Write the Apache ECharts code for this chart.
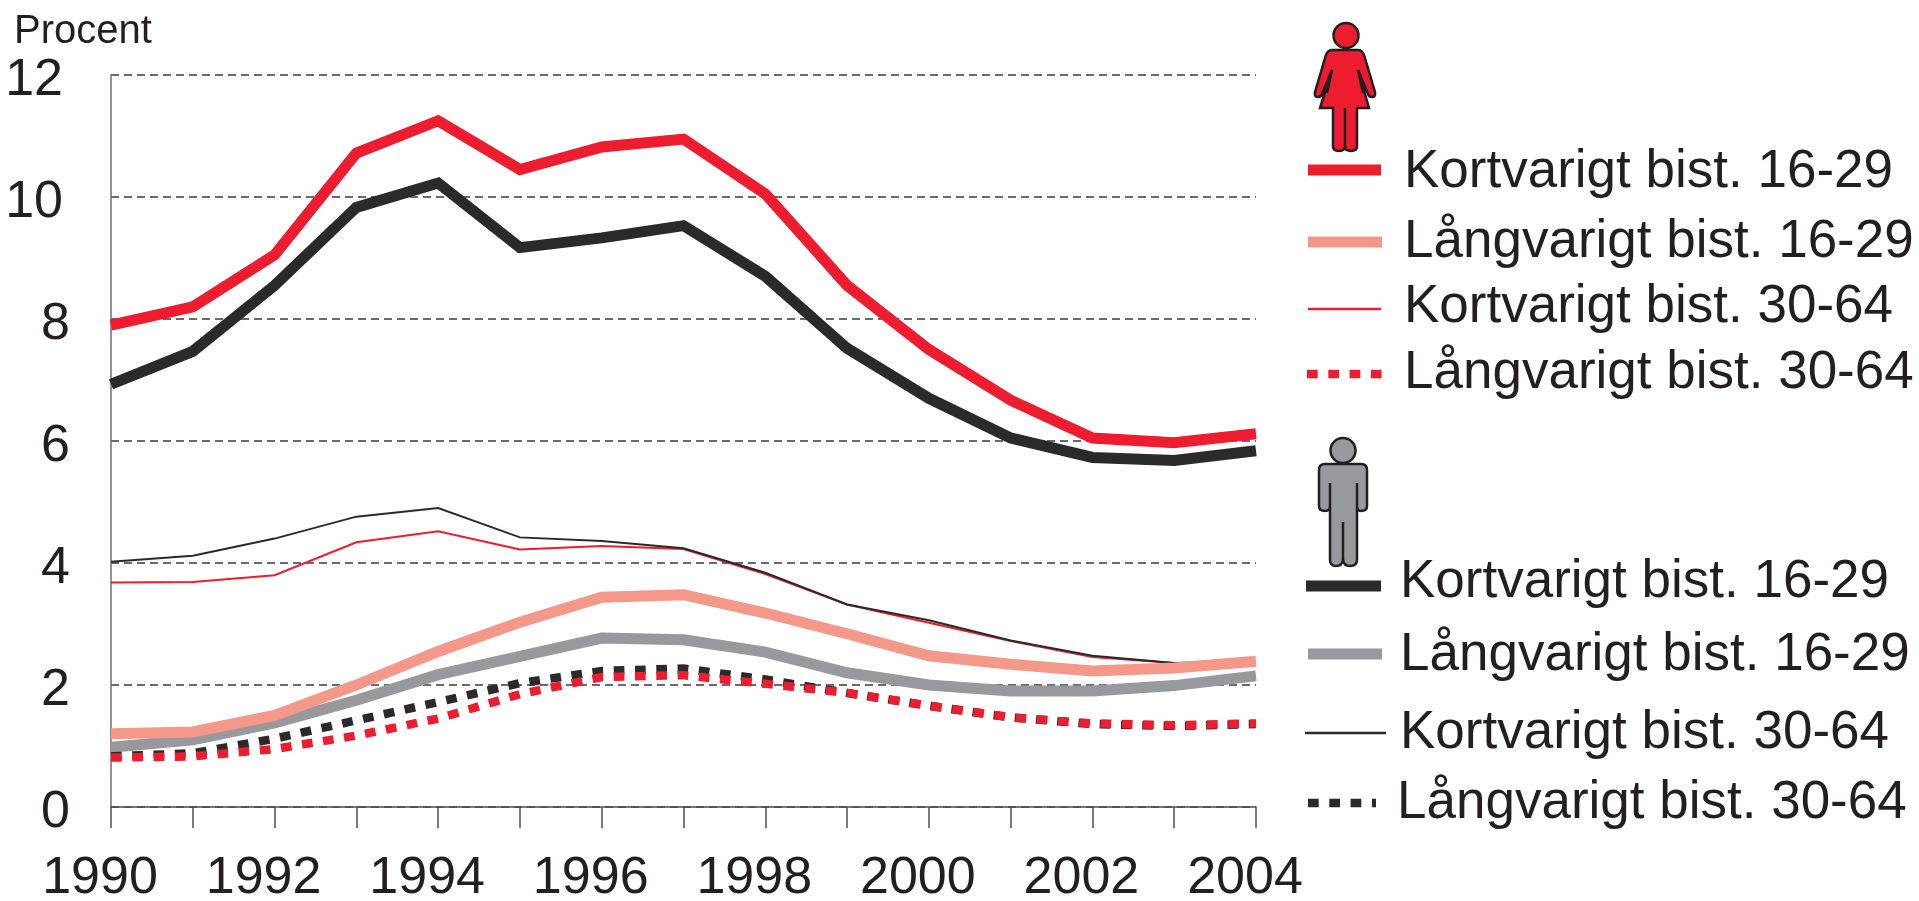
<!DOCTYPE html>
<html><head><meta charset="utf-8">
<style>html,body{margin:0;padding:0;background:#fff}#c{width:1919px;height:901px}</style>
<script src="https://cdn.jsdelivr.net/npm/echarts@6/dist/echarts.min.js"></script>
</head><body><div id="c"></div>
<script>
const years = ['1990','1991','1992','1993','1994','1995','1996','1997','1998','1999','2000','2001','2002','2003','2004'];
const womenShort1629 = [7.9,8.2,9.05,10.72,11.25,10.45,10.82,10.95,10.05,8.55,7.5,6.67,6.05,5.97,6.12];
const womenLong1629  = [1.2,1.23,1.5,2.0,2.55,3.03,3.44,3.48,3.18,2.84,2.48,2.34,2.23,2.28,2.39];
const womenShort3064 = [3.68,3.69,3.8,4.34,4.52,4.22,4.28,4.23,3.82,3.32,3.02,2.72,2.46,2.36,2.38];
const womenLong3064  = [0.81,0.83,0.95,1.17,1.45,1.85,2.13,2.16,2.02,1.87,1.66,1.47,1.37,1.34,1.37];
const menShort1629   = [6.93,7.47,8.55,9.83,10.23,9.17,9.33,9.53,8.7,7.52,6.7,6.05,5.73,5.68,5.84];
const menLong1629    = [0.98,1.1,1.38,1.75,2.17,2.47,2.77,2.74,2.54,2.2,2.0,1.9,1.9,1.99,2.15];
const menShort3064   = [4.02,4.12,4.4,4.76,4.9,4.42,4.36,4.24,3.84,3.32,3.06,2.73,2.48,2.36,2.38];
const menLong3064    = [0.83,0.88,1.12,1.42,1.72,2.03,2.23,2.27,2.09,1.87,1.66,1.47,1.36,1.33,1.36];

const RED='#ed1c2e', SALMON='#f4998a', DARK='#2b292a', GREY='#98999c', INK='#231f20';
const FONT='"Liberation Sans", Arial, sans-serif';

function s(name,data,color,width,dash){
  return {name,type:'line',data,symbol:'none',smooth:false,animation:false,
    lineStyle:{color,width,type:dash?[10.7,10.6]:'solid',cap:'butt',join:'miter'}};
}
const series=[
  s('Kvinnor Kortvarigt bist. 30-64',womenShort3064,RED,2),
  s('Män Kortvarigt bist. 30-64',menShort3064,DARK,2),
  s('Män Långvarigt bist. 16-29',menLong1629,GREY,11),
  s('Kvinnor Långvarigt bist. 16-29',womenLong1629,SALMON,11),
  s('Män Långvarigt bist. 30-64',menLong3064,DARK,8.5,true),
  s('Kvinnor Långvarigt bist. 30-64',womenLong3064,RED,8.5,true),
  s('Män Kortvarigt bist. 16-29',menShort1629,DARK,11),
  s('Kvinnor Kortvarigt bist. 16-29',womenShort1629,RED,11)
];

const LEG=53;
const legendRows=[
  {t:'Kortvarigt bist. 16-29',x:1404,base:187,ly:170,x0:1308,x1:1381,c:RED,w:11},
  {t:'Långvarigt bist. 16-29',x:1404,base:257,ly:242,x0:1308,x1:1382,c:SALMON,w:11},
  {t:'Kortvarigt bist. 30-64',x:1404,base:322,ly:309,x0:1308,x1:1381,c:RED,w:2.5},
  {t:'Långvarigt bist. 30-64',x:1404,base:388,ly:374,x0:1307,x1:1382,c:RED,w:8.5,dash:true},
  {t:'Kortvarigt bist. 16-29',x:1400,base:597,ly:586,x0:1306,x1:1381,c:DARK,w:11},
  {t:'Långvarigt bist. 16-29',x:1400,base:670,ly:654,x0:1308,x1:1382,c:GREY,w:11},
  {t:'Kortvarigt bist. 30-64',x:1400,base:748,ly:733,x0:1305,x1:1386,c:DARK,w:2.5},
  {t:'Långvarigt bist. 30-64',x:1397,base:818,ly:803,x0:1308,x1:1376,c:DARK,w:8.5,dash:true}
];
const graphic=[];
graphic.push({type:'text',x:14,y:43-0.27*40,style:{text:'Procent',font:'40px '+FONT,fill:INK,verticalAlign:'middle'}});
legendRows.forEach(r=>{
  graphic.push({type:'line',shape:{x1:r.x0,y1:r.ly,x2:r.x1,y2:r.ly},
    style:{stroke:r.c,lineWidth:r.w,lineDash:r.dash?[10.7,10.6]:null}});
  graphic.push({type:'text',x:r.x,y:r.base-0.28*LEG,style:{text:r.t,font:LEG+'px '+FONT,fill:INK,verticalAlign:'middle'}});
});
// pictograms
const womanBody='M1332 50 L1358 50 Q1362 50 1364 55 L1375 92 Q1376 97 1372 97 Q1369 97 1368 94 L1358 70 L1369 108 L1357 108 L1357 146 Q1357 151 1351 151 Q1345 151 1345 146 Q1345 151 1339 151 Q1333 151 1333 146 L1333 108 L1320 108 L1332 70 L1322 94 Q1321 97 1318 97 Q1314 97 1315 92 L1326 55 Q1328 50 1332 50 Z';
const womanLines='M1345 108 L1345 146 M1332 70 L1327 93 M1358 70 L1363 93';
const manBody='M1325 464 L1361 464 Q1367 464 1367 470 L1367 506 Q1367 511 1361 511 Q1357 511 1357 506 L1357 560 Q1357 566 1350 566 Q1344 566 1343 560 Q1342 566 1336 566 Q1330 566 1330 560 L1330 506 Q1330 511 1325 511 Q1319 511 1319 506 L1319 470 Q1319 464 1325 464 Z';
const manLines='M1343 522 L1343 560 M1330 483 L1330 506 M1357 483 L1357 506';
[['womanBody',womanBody],['womanLines',womanLines],['manBody',manBody],['manLines',manLines]].forEach(([n,d])=>{
  echarts.graphic.registerShape(n,echarts.graphic.extendPath(d,{}));
});
graphic.push({type:'circle',shape:{cx:1346,cy:35.5,r:12.5},style:{fill:RED,stroke:INK,lineWidth:2.5}});
graphic.push({type:'womanBody',style:{fill:RED,stroke:INK,lineWidth:2.5}});
graphic.push({type:'womanLines',style:{fill:null,stroke:INK,lineWidth:2.5}});
graphic.push({type:'circle',shape:{cx:1343,cy:450.5,r:12.5},style:{fill:GREY,stroke:INK,lineWidth:2.5}});
graphic.push({type:'manBody',style:{fill:GREY,stroke:INK,lineWidth:2.5}});
graphic.push({type:'manLines',style:{fill:null,stroke:INK,lineWidth:2.5}});

const chart=echarts.init(document.getElementById('c'),null,{renderer:'canvas'});
const TICK=52;
chart.setOption({
  animation:false,backgroundColor:'#fff',
  grid:{left:111,right:663,top:75,bottom:94,containLabel:false,outerBoundsMode:'none'},
  xAxis:{type:'category',data:years,boundaryGap:false,
    axisLine:{show:true,onZero:false,lineStyle:{color:'#4d4d4f',width:1.5}},
    axisTick:{show:true,alignWithLabel:true,interval:0,length:21,lineStyle:{color:'#4d4d4f',width:1.5}},
    axisLabel:{show:true,interval:1,showMaxLabel:true,color:INK,fontFamily:'Liberation Sans',fontSize:TICK,margin:46,padding:[0,22,0,0],hideOverlap:false,
      formatter:v=>v},
    splitLine:{show:false}},
  yAxis:{type:'value',min:0,max:12,interval:2,
    axisLine:{show:true,lineStyle:{color:'#6d6e71',width:1.5}},
    axisTick:{show:false},
    axisLabel:{color:INK,fontFamily:'Liberation Sans',fontSize:TICK,margin:41,
      formatter:v=>v>=10?'{w|'+v+'}':'{n|'+v+'}',
      rich:{w:{fontSize:TICK,fontFamily:'Liberation Sans',color:INK,padding:[11,7,0,0]},n:{fontSize:TICK,fontFamily:'Liberation Sans',color:INK,padding:[11,0,0,0]}}},
    splitLine:{show:true,lineStyle:{color:'#3a3a3a',width:1.5,type:[8,5]}}},
  series,
  graphic:{elements:graphic}
});
</script></body></html>
